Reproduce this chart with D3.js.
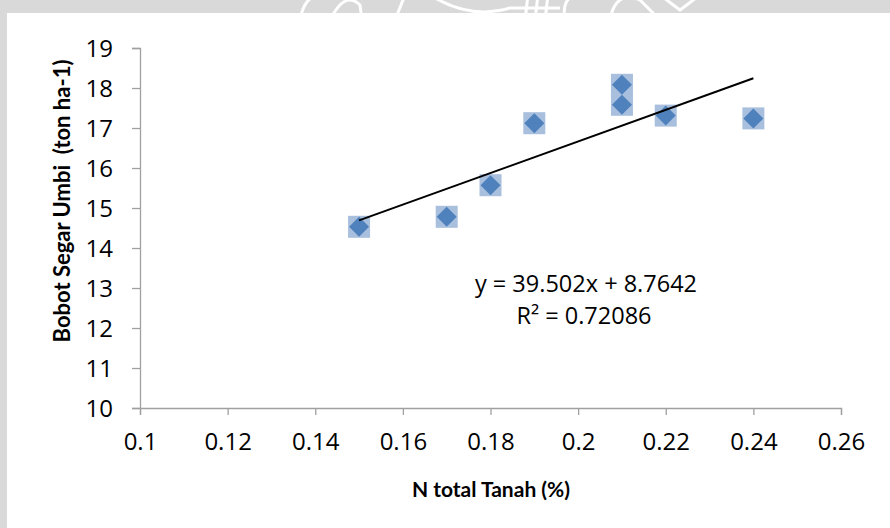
<!DOCTYPE html>
<html lang="id">
  <head>
    <meta charset="utf-8">
    <title>Bobot Segar Umbi vs N total Tanah</title>
    <script src="https://d3js.org/d3.v7.min.js"></script>
    <style>
      body { margin: 0; background: #d9d9d9; }
      svg { display: block; }
      text { font-family: "Open Sans", Lato, sans-serif; fill: #000; }
      .axis path, .axis line { stroke: #a0a0a0; stroke-width: 1.3; }
      .axis text { font-size: 24px; }
      .axisLabel { font-family: Lato, sans-serif; font-size: 21px; font-weight: bold; }
      .eq { font-size: 23.5px; }
    </style>
  </head>
  <body>
    <div id="chart"></div>
    <script>

      // data
      var nTotal = [0.15, 0.17, 0.18, 0.19, 0.21, 0.21, 0.22, 0.24];
      var bobot  = [14.53, 14.78, 15.57, 17.12, 18.08, 17.58, 17.31, 17.24];
      var xTicks = [0.1, 0.12, 0.14, 0.16, 0.18, 0.2, 0.22, 0.24, 0.26];
      var yTicks = [10, 11, 12, 13, 14, 15, 16, 17, 18, 19];
      var slope = 39.502, intercept = 8.7642, r2 = "0.72086";

      var width = 890;
      var height = 528;
      var margin = {top: 48, left: 140, right: 49, bottom: 120};

      var svg = d3.select("#chart")
        .append("svg")
        .attr("width", width)
        .attr("height", height);

      // gray page with white chart area
      svg.append("rect")
        .attr("width", width).attr("height", height)
        .attr("fill", "#d9d9d9");

      // faint watermark strokes in the top band
      var wm = svg.append("g")
        .attr("fill", "none")
        .attr("stroke", "#ffffff")
        .attr("stroke-width", 3);
      wm.append("path").attr("d", "M300,20 Q305,-10 330,-5");
      wm.append("path").attr("d", "M330,20 Q345,-10 360,5 L362,20");
      wm.append("path").attr("d", "M395,20 L405,-5");
      wm.append("path").attr("d", "M430,-5 Q470,20 510,8 L560,8");
      wm.append("path").attr("d", "M525,20 L528,-5 M535,20 L538,-5 M545,20 L548,-5");
      wm.append("path").attr("d", "M565,20 Q560,-10 590,-5");
      wm.append("path").attr("d", "M610,20 Q615,-10 640,0 L660,20");
      wm.append("path").attr("d", "M660,-5 L680,10 L700,-5");

      svg.append("rect")
        .attr("x", 7).attr("y", 13)
        .attr("width", width - 7).attr("height", height - 13)
        .attr("fill", "#ffffff");

      var xScale = d3.scaleLinear()
        .domain([0.1, 0.26])
        .range([margin.left, width - margin.right]);

      var yScale = d3.scaleLinear()
        .domain([10, 19])
        .range([height - margin.bottom, margin.top]);

      var xAxis = svg.append("g")
        .attr("class", "axis")
        .attr("transform", `translate(0,${height - margin.bottom})`)
        .call(d3.axisBottom(xScale).tickValues(xTicks).tickSize(7).tickSizeOuter(7).tickPadding(18)
          .tickFormat(function(d){ return +d.toFixed(2); }));

      var yAxis = svg.append("g")
        .attr("class", "axis")
        .attr("transform", `translate(${margin.left},0)`)
        .call(d3.axisLeft(yScale).tickValues(yTicks).tickSize(8).tickSizeOuter(8).tickPadding(19));

      yAxis.selectAll("text").attr("dy", "0.36em");

      var xLabel = svg.append("text")
        .attr("class", "axisLabel")
        .attr("x", 491)
        .attr("y", 497)
        .attr("text-anchor", "middle")
        .text("N total Tanah (%)");

      var yLabel = svg.append("text")
        .attr("class", "axisLabel")
        .attr("transform", "rotate(-90)")
        .attr("x", -201)
        .attr("y", 70)
        .attr("text-anchor", "middle")
        .style("font-size", "22px")
        .style("white-space", "pre")
        .text("Bobot Segar Umbi  (ton ha-1)");

      var points = nTotal.map(function(x, i){ return {x: x, y: bobot[i]}; });

      // light square behind each marker
      svg.selectAll(".halo")
        .data(points)
        .enter()
        .append("rect")
          .attr("class", "halo")
          .attr("x", function(d){ return xScale(d.x) - 11; })
          .attr("y", function(d){ return yScale(d.y) - 11; })
          .attr("width", 22)
          .attr("height", 22)
          .attr("fill", "#a8bfdd");

      svg.selectAll(".marker")
        .data(points)
        .enter()
        .append("path")
          .attr("class", "marker")
          .attr("transform", function(d){ return `translate(${xScale(d.x)},${yScale(d.y)})`; })
          .attr("d", "M0,-10L10,0L0,10L-10,0Z")
          .attr("fill", "#4f81bd");

      // linear trendline from the printed equation
      var xr = d3.extent(nTotal);
      svg.append("line")
        .attr("x1", xScale(xr[0]))
        .attr("y1", yScale(slope * xr[0] + intercept))
        .attr("x2", xScale(xr[1]))
        .attr("y2", yScale(slope * xr[1] + intercept))
        .attr("stroke", "#000")
        .attr("stroke-width", 2);

      svg.append("text")
        .attr("class", "eq")
        .attr("x", 586).attr("y", 292)
        .attr("text-anchor", "middle")
        .text(`y = ${slope}x + ${intercept}`);

      svg.append("text")
        .attr("class", "eq")
        .attr("x", 584).attr("y", 324)
        .attr("text-anchor", "middle")
        .text(`R² = ${r2}`);

    </script>
  </body>
</html>
